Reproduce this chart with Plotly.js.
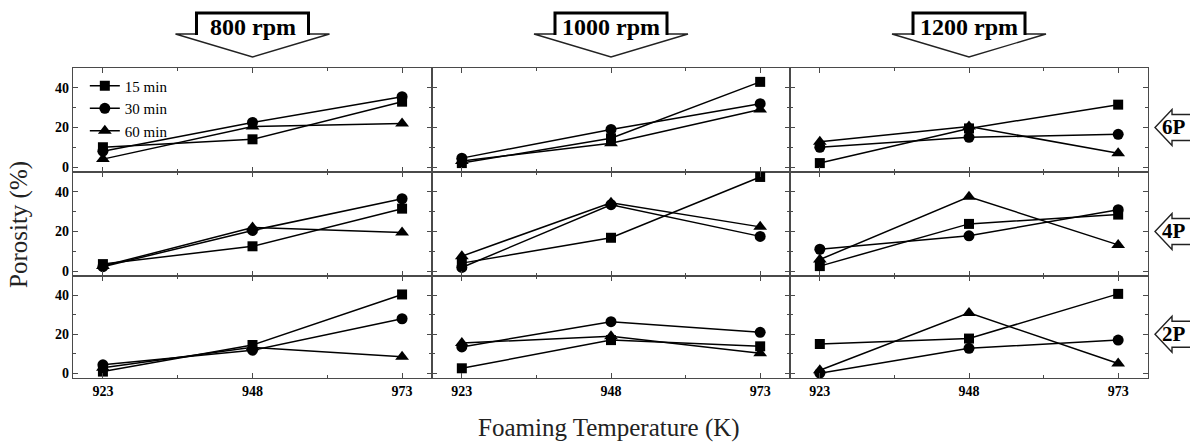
<!DOCTYPE html>
<html>
<head>
<meta charset="utf-8">
<script src="https://cdn.plot.ly/plotly-3.0.1.min.js"></script>
<style>html,body{margin:0;padding:0;background:#fff;}#chart{width:1190px;height:444px;}</style>
</head>
<body>
<div id="chart"></div>
<script>
// ---- data ----
const temps = [923, 948, 973];
const speeds = ['800 rpm', '1000 rpm', '1200 rpm'];
const layers = ['6P', '4P', '2P'];
const series = ['15 min', '30 min', '60 min'];

// each array: [15 min], [30 min], [60 min] porosity (%) at 923, 948, 973 K
const p6P_800  = [[10, 14, 33],     [8, 22.5, 35.5],  [4, 20.5, 22]];
const p6P_1000 = [[2, 14.5, 43],    [4.5, 19, 32],    [3, 12, 29]];
const p6P_1200 = [[2, 19.5, 31.5],  [10, 15, 16.5],   [12.8, 20.5, 7]];
const p4P_800  = [[3.5, 12.5, 31.5],[2.2, 20.5, 36.5],[2.5, 22, 19.5]];
const p4P_1000 = [[4, 16.8, 47.5],  [1.8, 33.5, 17.5],[7.5, 34.5, 22.3]];
const p4P_1200 = [[2.5, 23.8, 28.5],[11, 17.8, 31],   [5.8, 37.5, 13.2]];
const p2P_800  = [[0.8, 14.5, 40.5],[4.3, 11.8, 28],  [2.8, 13.3, 8.5]];
const p2P_1000 = [[2.5, 17, 13.8],  [13.5, 26.5, 21], [15.5, 19, 10.3]];
const p2P_1200 = [[15, 17.8, 40.8], [0, 12.8, 17],    [1.5, 31, 5]];

const panels = [
  [p6P_800, p6P_1000, p6P_1200],
  [p4P_800, p4P_1000, p4P_1200],
  [p2P_800, p2P_1000, p2P_1200]
];

// ---- styling ----
const W = 1190, H = 444;
const M = {l: 73, r: 42, t: 68, b: 66};
const PW = W - M.l - M.r, PH = H - M.t - M.b;
const colPx = [[0, 359], [359, 717], [717, 1075]];
const rowPx = [[0, 104], [104, 208], [208, 310]]; // from top of plot area
const yRange = [-2.5, 50], xRange = [918, 978];
const symbols = ['square', 'circle', 'triangle-up'];
const msizes = [10, 11, 12];
const serif = 'Liberation Serif';
const lineCol = '#4a4a4a';

const traces = [];
const layout = {
  width: W, height: H,
  margin: M,
  paper_bgcolor: '#fff', plot_bgcolor: '#fff',
  font: {family: serif, color: '#000'},
  showlegend: true,
  legend: {
    x: 0.011, y: 0.995, xanchor: 'left', yanchor: 'top',
    bgcolor: 'rgba(0,0,0,0)', borderwidth: 0,
    font: {family: serif, size: 15, color: '#000'},
    itemwidth: 30, tracegroupgap: 0
  },
  shapes: [], annotations: []
};

for (let r = 0; r < 3; r++) {
  for (let c = 0; c < 3; c++) {
    const idx = r * 3 + c + 1;
    const xa = 'xaxis' + (idx === 1 ? '' : idx);
    const ya = 'yaxis' + (idx === 1 ? '' : idx);
    const xr = 'x' + (idx === 1 ? '' : idx);
    const yr = 'y' + (idx === 1 ? '' : idx);
    layout[xa] = {
      domain: [colPx[c][0] / PW, colPx[c][1] / PW],
      anchor: yr, range: xRange,
      tickvals: temps, ticktext: temps.map(String),
      showticklabels: r === 2,
      ticks: 'inside', ticklen: 5, tickwidth: 1, tickcolor: lineCol,
      minor: {tickvals: [935.5, 960.5], ticks: 'inside', ticklen: 3, tickcolor: lineCol},
      showline: true, linecolor: lineCol, linewidth: 1.2, mirror: 'ticks',
      showgrid: false, zeroline: false, fixedrange: true,
      tickfont: {family: serif, size: 14, weight: 'bold', color: '#000'}
    };
    layout[ya] = {
      domain: [(PH - rowPx[r][1]) / PH, (PH - rowPx[r][0]) / PH],
      anchor: xr, range: yRange,
      tickvals: [0, 20, 40],
      showticklabels: c === 0,
      ticks: 'inside', ticklen: 5, tickwidth: 1, tickcolor: lineCol,
      minor: {tickvals: [10, 30], ticks: 'inside', ticklen: 3, tickcolor: lineCol},
      showline: true, linecolor: lineCol, linewidth: 1.2, mirror: 'ticks',
      showgrid: false, zeroline: false, fixedrange: true,
      tickfont: {family: serif, size: 14, weight: 'bold', color: '#000'}
    };
    const data = panels[r][c];
    for (let s = 0; s < 3; s++) {
      traces.push({
        x: temps, y: data[s], xaxis: xr, yaxis: yr,
        type: 'scatter', mode: 'lines+markers',
        name: series[s], legendgroup: series[s],
        showlegend: idx === 1,
        line: {color: '#000', width: 1.5},
        marker: {symbol: symbols[s], size: msizes[s], color: '#000'},
        cliponaxis: false
      });
    }
  }
}

// pixel -> paper helpers
const px = x => (x - M.l) / PW;
const py = y => (M.t + PH - y) / PH;
const path = pts => 'M' + pts.map(p => px(p[0]).toFixed(5) + ',' + py(p[1]).toFixed(5)).join(' L') + ' Z';
const openPath = pts => 'M' + pts.map(p => px(p[0]).toFixed(5) + ',' + py(p[1]).toFixed(5)).join(' L');

// top arrows (speed labels)
for (let c = 0; c < 3; c++) {
  const cx = M.l + (colPx[c][0] + colPx[c][1]) / 2;
  layout.shapes.push({
    type: 'path', xref: 'paper', yref: 'paper', layer: 'above',
    path: path([[cx - 56, 13], [cx + 56, 13], [cx + 56, 34], [cx + 77, 34], [cx, 57], [cx - 77, 34], [cx - 56, 34]]),
    line: {color: '#222', width: 1.4}, fillcolor: '#fff'
  });
  layout.shapes.push({
    type: 'path', xref: 'paper', yref: 'paper', layer: 'above',
    path: openPath([[cx - 56, 35], [cx - 56, 13], [cx + 56, 13], [cx + 56, 35]]),
    line: {color: '#000', width: 3}
  });
  layout.annotations.push({
    xref: 'paper', yref: 'paper', x: px(cx), y: py(27), xanchor: 'center', yanchor: 'middle',
    text: speeds[c], showarrow: false,
    font: {family: serif, size: 24, weight: 'bold', color: '#000'}
  });
}

// right arrows (layer labels)
for (let r = 0; r < 3; r++) {
  const yc = M.t + rowPx[r][0] + (yRange[1] - 20) / (yRange[1] - yRange[0]) * (rowPx[r][1] - rowPx[r][0]);
  layout.shapes.push({
    type: 'path', xref: 'paper', yref: 'paper', layer: 'above',
    path: path([[1155, yc], [1172, yc - 18], [1172, yc - 13], [1196, yc - 13], [1196, yc + 13], [1172, yc + 13], [1172, yc + 18]]),
    line: {color: '#222', width: 1.4}, fillcolor: '#fff'
  });
  layout.annotations.push({
    xref: 'paper', yref: 'paper', x: px(1174), y: py(yc), xanchor: 'center', yanchor: 'middle',
    text: layers[r], showarrow: false,
    font: {family: serif, size: 21, weight: 'bold', color: '#000'}
  });
}

// axis titles
layout.annotations.push({
  xref: 'paper', yref: 'paper', x: px(609), y: py(428), xanchor: 'center', yanchor: 'middle',
  text: 'Foaming Temperature (K)', showarrow: false,
  font: {family: serif, size: 25, color: '#222'}
});
layout.annotations.push({
  xref: 'paper', yref: 'paper', x: px(19), y: py(224), xanchor: 'center', yanchor: 'middle',
  text: 'Porosity (%)', showarrow: false, textangle: -90,
  font: {family: serif, size: 25, color: '#222'}
});

Plotly.newPlot('chart', traces, layout, {displayModeBar: false, staticPlot: true});
</script>
</body>
</html>
